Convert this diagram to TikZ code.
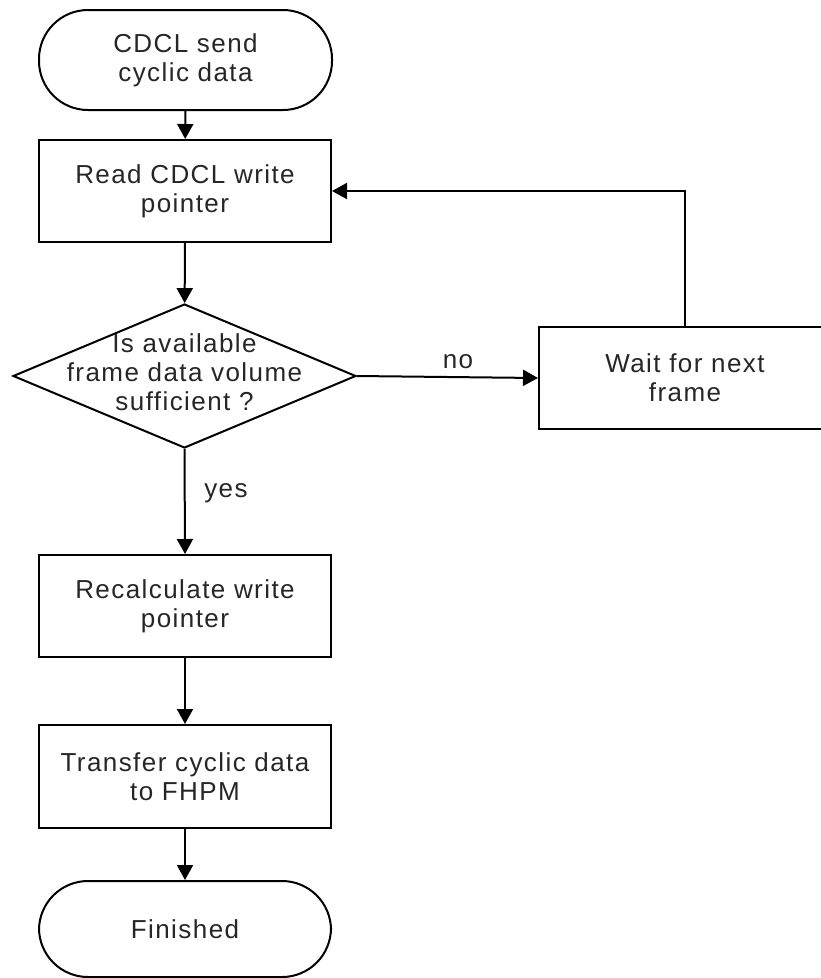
\documentclass[tikz,border=0pt]{standalone}
\usepackage{fontspec}
\setmainfont{Liberation Sans}[LetterSpace=5.5]
\usetikzlibrary{shapes.geometric,arrows.meta}
\begin{document}
\begin{tikzpicture}[x=1pt,y=1pt,
  every node/.style={font=\fontsize{26}{29}\selectfont, text=black!85},
  box/.style={draw=black, line width=2pt, rectangle, minimum width=292pt, minimum height=102pt, inner sep=0pt, align=center},
  term/.style={box, rounded corners=49pt, minimum height=98pt},
  decision/.style={draw=black, line width=2pt, diamond, minimum width=343pt, minimum height=144pt, inner sep=0pt},
  conn/.style={line width=2pt, -{Triangle[length=15pt,width=16pt]}},
  lab/.style={inner sep=0pt}
]
\useasboundingbox (0,0) rectangle (821,-978);
\begin{scope}
\clip (0,0) rectangle (821,-978);
\node[term, minimum height=100pt, minimum width=293pt] (start) at (185.5,-60) {CDCL send\\cyclic data};
\node[box] (read) at (185,-191) {Read CDCL write\\pointer};
\node[decision] (dec) at (184.5,-376) {};
\node[align=center, inner sep=0pt] (dectext) at (184.5,-372) {Is available\\frame data volume\\sufficient ?};
\node[box] (wait) at (685,-378) {Wait for next\\frame};
\node[box] (recalc) at (185,-606) {Recalculate write\\pointer};
\node[box, minimum height=103pt] (transfer) at (185,-776.5) {Transfer cyclic data\\to FHPM};
\node[term, minimum height=96pt] (finish) at (185,-929) {Finished};

\draw[conn] (start) -- (read);
\draw[conn] (read) -- (dec);
\draw[conn] (dec.east) -- (wait.west);
\draw[conn] (wait.north) |- (read.east);
\draw[conn] (dec.south) -- (recalc.north);
\draw[conn] (recalc) -- (transfer);
\draw[conn] (transfer) -- (finish);

\node[lab] (no) at (458,-362) {no};
\node[lab] (yes) at (226,-493) {yes};
\end{scope}
\end{tikzpicture}
\end{document}
